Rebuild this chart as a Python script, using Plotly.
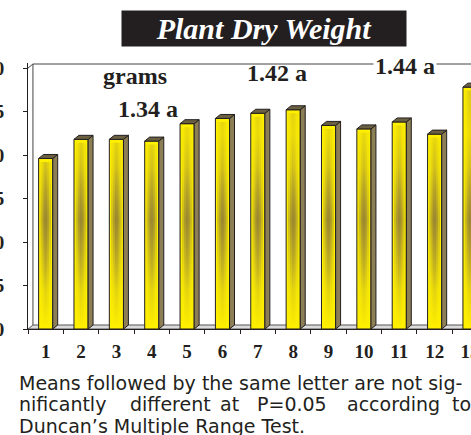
import plotly.graph_objects as go

# ---------------- data ----------------
categories = list(range(1, 14))
tick_labels = [str(c) for c in categories]
dry_weight = [0.98, 1.09, 1.09, 1.08, 1.18, 1.21, 1.24, 1.26, 1.17, 1.15, 1.19, 1.12, 1.39]
y_tick_vals = [0.0, 0.25, 0.5, 0.75, 1.0, 1.25, 1.5]
y_tick_text = ["0.00", "0.25", "0.50", "0.75", "1.00", "1.25", "1.50"]
mean_labels = ["grams", "1.34 a", "1.42 a", "1.44 a"]
title_text = "Plant Dry Weight"
caption_line1 = "Means followed by the same letter are not sig-"
caption_line2_words = ["nificantly", "different", "at", "P=0.05", "according", "to"]
caption_line3 = "Duncan\u2019s Multiple Range Test."

# ---------------- geometry ----------------
W, H = 471, 435
ML, MR, MT, MB = 28, 0, 63, 106
PW, PH = W - ML - MR, H - MT - MB
SLOT = 35.36
XMIN = 0.5
XMAX = XMIN + PW / SLOT
PXU = 174.0
YMAX = PH / PXU
DX, DY = 0.14, 0.023
BW = 0.4

INK = "#231f20"
YEL = "#fff000"
SIDE = "#8c7f55"
TOP = "#6b6142"


def px2x(px):
    return (px - ML) / PW


def px2y(py):
    return (H - MB - py) / PH


fig = go.Figure()

# front faces
fig.add_trace(go.Bar(
    x=categories, y=dry_weight, width=BW,
    marker=dict(color=YEL, line=dict(color=INK, width=1)),
    showlegend=False, hoverinfo="x+y",
))

# shading strips (gradient) inside front faces
for half, alpha in [(0.15, 0.45), (0.09, 0.5), (0.04, 0.5)]:
    xs, ys = [], []
    for c, v in zip(categories, dry_weight):
        xs += [c - half, c + half, c + half, c - half, c - half, None]
        ys += [0.02, 0.02, v - 0.02, v - 0.02, 0.02, None]
    fig.add_trace(go.Scatter(
        x=xs, y=ys, mode="lines", fill="toself", line=dict(width=0),
        fillgradient=dict(
            type="vertical", start=0, stop=1.5,
            colorscale=[
                [0.0, "rgba(150,130,60,0)"],
                [0.15, "rgba(150,130,60,%.2f)" % (alpha * 0.2)],
                [0.42, "rgba(140,120,55,%.2f)" % alpha],
                [0.62, "rgba(150,130,60,%.2f)" % (alpha * 0.35)],
                [0.75, "rgba(150,130,60,%.2f)" % (alpha * 0.15)],
                [1.0, "rgba(150,130,60,%.2f)" % (alpha * 0.3)],
            ],
        ),
        showlegend=False, hoverinfo="skip",
    ))

# side faces
xs, ys = [], []
for c, v in zip(categories, dry_weight):
    r = c + BW / 2
    xs += [r, r + DX, r + DX, r, r, None]
    ys += [0, DY, v + DY, v, 0, None]
fig.add_trace(go.Scatter(x=xs, y=ys, mode="lines", fill="toself", fillcolor=SIDE,
                         line=dict(color=INK, width=1), showlegend=False, hoverinfo="skip"))

# top faces
xs, ys = [], []
for c, v in zip(categories, dry_weight):
    l, r = c - BW / 2, c + BW / 2
    xs += [l, r, r + DX, l + DX, l, None]
    ys += [v, v, v + DY, v + DY, v, None]
fig.add_trace(go.Scatter(x=xs, y=ys, mode="lines", fill="toself", fillcolor=TOP,
                         line=dict(color=INK, width=1), showlegend=False, hoverinfo="skip"))

# ---------------- 3D frame ----------------
shapes = [
    dict(type="path", xref="x", yref="y",
         path=f"M {XMIN},0 L {XMIN+DX},{DY} L {XMAX+1},{DY} L {XMAX+1},0 Z",
         fillcolor="#dcdcdc", line=dict(color="#555555", width=1), layer="below"),
    dict(type="line", xref="x", yref="y", x0=XMIN + DX, y0=DY, x1=XMIN + DX, y1=1.5 + DY,
         line=dict(color="#444444", width=1), layer="below"),
    dict(type="line", xref="x", yref="y", x0=XMIN + DX, y0=1.5 + DY, x1=XMAX + 1, y1=1.5 + DY,
         line=dict(color="#444444", width=1), layer="below"),
    dict(type="line", xref="x", yref="y", x0=XMIN, y0=1.5, x1=XMIN + DX, y1=1.5 + DY,
         line=dict(color="#444444", width=1), layer="below"),
]

ann = []
ann.append(dict(text=title_text, xref="paper", yref="paper",
                x=px2x(263.5), y=px2y(28.5), xanchor="center", yanchor="middle",
                showarrow=False, width=284, height=35, bgcolor=INK, borderpad=0,
                font=dict(family="Liberation Serif", size=30, color="white",
                          weight="bold", style="italic")))

label_pos = [(135, 76, None), (148, 109, None), (277, 73, None), (405, 66, "white")]
for t, (px, py, bg) in zip(mean_labels, label_pos):
    d = dict(text=t, xref="paper", yref="paper", x=px2x(px), y=px2y(py),
             xanchor="center", yanchor="middle", showarrow=False,
             font=dict(family="Liberation Serif", size=24, color=INK, weight="bold"))
    if bg:
        d["bgcolor"] = bg
        d["borderpad"] = 1
    ann.append(d)

cap_font = dict(family="DejaVu Sans", size=19, color=INK)
ann.append(dict(text=caption_line1, xref="paper", yref="paper", x=px2x(17), y=px2y(382.5),
                xanchor="left", yanchor="middle", showarrow=False, font=cap_font))
for wd, px in zip(caption_line2_words, [17, 128, 218, 255, 345, 450]):
    ann.append(dict(text=wd, xref="paper", yref="paper", x=px2x(px), y=px2y(404),
                    xanchor="left", yanchor="middle", showarrow=False, font=cap_font))
ann.append(dict(text=caption_line3, xref="paper", yref="paper", x=px2x(17), y=px2y(425.5),
                xanchor="left", yanchor="middle", showarrow=False, font=cap_font))

fig.update_layout(
    width=W, height=H,
    margin=dict(l=ML, r=MR, t=MT, b=MB, pad=0),
    paper_bgcolor="white", plot_bgcolor="white",
    barmode="overlay",
    showlegend=False,
    shapes=shapes,
    annotations=ann,
    xaxis=dict(
        range=[XMIN, XMAX], tickvals=categories, ticktext=tick_labels,
        ticks="", showgrid=False, zeroline=False, automargin=False,
        showline=True, linecolor=INK, linewidth=1,
        ticklabelstandoff=5, ticklabeloverflow="allow",
        tickfont=dict(family="Liberation Serif", size=19, color=INK, weight="bold"),
        minor=dict(tickvals=[c + 0.5 for c in [0] + categories], ticks="outside",
                   ticklen=4, tickcolor=INK, tickwidth=1, showgrid=False),
        fixedrange=True,
    ),
    yaxis=dict(
        range=[0, YMAX], tickvals=y_tick_vals, ticktext=y_tick_text,
        ticks="outside", ticklen=4, tickcolor=INK, tickwidth=1,
        showgrid=False, zeroline=False, automargin=False,
        showline=True, linecolor=INK, linewidth=1,
        ticklabelstandoff=15,
        tickfont=dict(family="Liberation Serif", size=19, color=INK, weight="bold"),
        fixedrange=True,
    ),
)

fig.write_html("out.html")
